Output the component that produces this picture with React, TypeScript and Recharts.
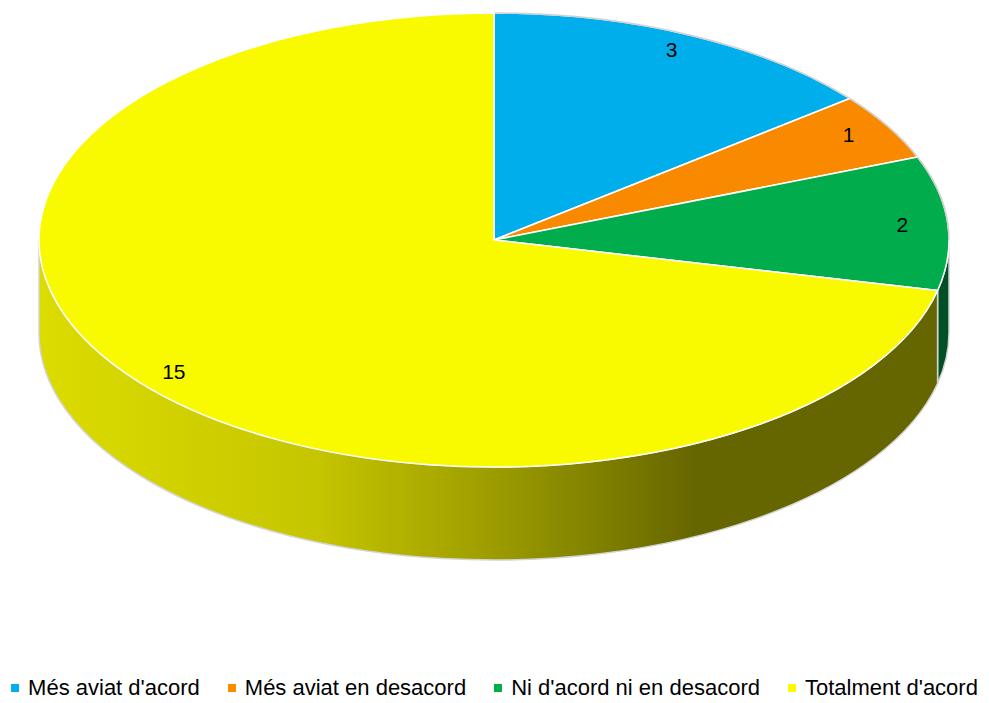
import React from 'react';
import { PieChart, Pie, Cell, Legend } from 'recharts';

const categories = ["Més aviat d'acord", 'Més aviat en desacord', "Ni d'acord ni en desacord", "Totalment d'acord"];
const values = [3, 1, 2, 15];

const topColors = ['#00AEEC', '#F98A00', '#00AC4C', '#F9F900'];
const sideColors = ['#006A90', '#955300', '#004F25', 'url(#yellowSide)'];

const data = categories.map((name, i) => ({ name, value: values[i] }));

const FONT = "'Liberation Sans', Arial, sans-serif";
const SQUASH = 227 / 455;
const DEPTH = 93;
const RAD = Math.PI / 180;

function pt(cx: number, cy: number, rx: number, ry: number, deg: number, dy = 0) {
  return [cx + rx * Math.cos(deg * RAD), cy - ry * Math.sin(deg * RAD) + dy];
}

function Slice3D(props: any) {
  const { cx, cy, outerRadius, startAngle, endAngle, fill, payload } = props;
  const idx = categories.indexOf(payload?.name ?? props.name);
  const rx = outerRadius;
  const ry = outerRadius * SQUASH;
  const hi = Math.max(startAngle, endAngle);
  const lo = Math.min(startAngle, endAngle);
  const large = hi - lo > 180 ? 1 : 0;

  const [sx, sy] = pt(cx, cy, rx, ry, hi);
  const [ex, ey] = pt(cx, cy, rx, ry, lo);
  const top = `M${cx},${cy} L${sx},${sy} A${rx},${ry} 0 ${large} 1 ${ex},${ey} Z`;

  // front wall: the part of the rim in the lower half of the ellipse
  const wHi = Math.min(hi, 0);
  const wLo = Math.max(lo, -180);
  let wall = null;
  if (wHi > wLo) {
    const [ax, ay] = pt(cx, cy, rx, ry, wHi);
    const [bx, by] = pt(cx, cy, rx, ry, wLo);
    const wl = wHi - wLo > 180 ? 1 : 0;
    const d = `M${ax},${ay} A${rx},${ry} 0 ${wl} 1 ${bx},${by} L${bx},${by + DEPTH} A${rx},${ry} 0 ${wl} 0 ${ax},${ay + DEPTH} Z`;
    wall = <path d={d} fill={sideColors[idx]} stroke="#d4d4d4" strokeWidth={1.5} />;
  }

  // back rim outline
  const bHi = Math.min(hi, 180);
  const bLo = Math.max(lo, 0);
  let rim = null;
  if (bHi > bLo) {
    const [ax, ay] = pt(cx, cy, rx, ry, bHi);
    const [bx, by] = pt(cx, cy, rx, ry, bLo);
    rim = <path d={`M${ax},${ay} A${rx},${ry} 0 0 1 ${bx},${by}`} fill="none" stroke="#d0d0d0" strokeWidth={1.5} />;
  }

  return (
    <g>
      {wall}
      <path d={top} fill={fill} stroke="#ffffff" strokeWidth={1.5} strokeLinejoin="round" />
      {rim}
    </g>
  );
}

function renderLabel(props: any) {
  const { cx, cy, outerRadius, midAngle, value } = props;
  const [x, y] = pt(cx, cy, outerRadius * 0.9, outerRadius * SQUASH * 0.93, midAngle);
  return (
    <text x={x} y={y} textAnchor="middle" dominantBaseline="central" fontSize={21} fontFamily={FONT} fill="#000">
      {value}
    </text>
  );
}

function renderLegend() {
  return (
    <div style={{ display: 'flex', justifyContent: 'center', gap: 28, fontFamily: FONT, fontSize: 22, color: '#000' }}>
      {categories.map((c, i) => (
        <div key={c} style={{ display: 'flex', alignItems: 'center', whiteSpace: 'nowrap' }}>
          <span style={{ display: 'inline-block', width: 8, height: 8, background: topColors[i], marginRight: 9 }} />
          {c}
        </div>
      ))}
    </div>
  );
}

export default function App() {
  return (
    <div style={{ position: 'absolute', left: 0, top: 0, width: 989, height: 703, background: '#fff' }}>
      <PieChart width={989} height={703} margin={{ top: 0, right: 0, bottom: 0, left: 0 }}>
        <defs>
          <linearGradient id="yellowSide" gradientUnits="userSpaceOnUse" x1={39} y1={0} x2={949} y2={0}>
            <stop offset="0" stopColor="#DCDC00" />
            <stop offset="0.3" stopColor="#C6C600" />
            <stop offset="0.5" stopColor="#9C9C00" />
            <stop offset="0.72" stopColor="#666600" />
            <stop offset="1" stopColor="#666600" />
          </linearGradient>
        </defs>
        <Pie
          data={data}
          dataKey="value"
          nameKey="name"
          cx={494}
          cy={240}
          outerRadius={455}
          startAngle={90}
          endAngle={-270}
          stroke="none"
          shape={Slice3D}
          inactiveShape={Slice3D}
          activeShape={Slice3D}
          label={renderLabel}
          labelLine={false}
          isAnimationActive={false}
        >
          {data.map((d, i) => (
            <Cell key={d.name} fill={topColors[i]} />
          ))}
        </Pie>
        <Legend content={renderLegend} wrapperStyle={{ top: 675, left: 0, width: 989 }} />
      </PieChart>
    </div>
  );
}
